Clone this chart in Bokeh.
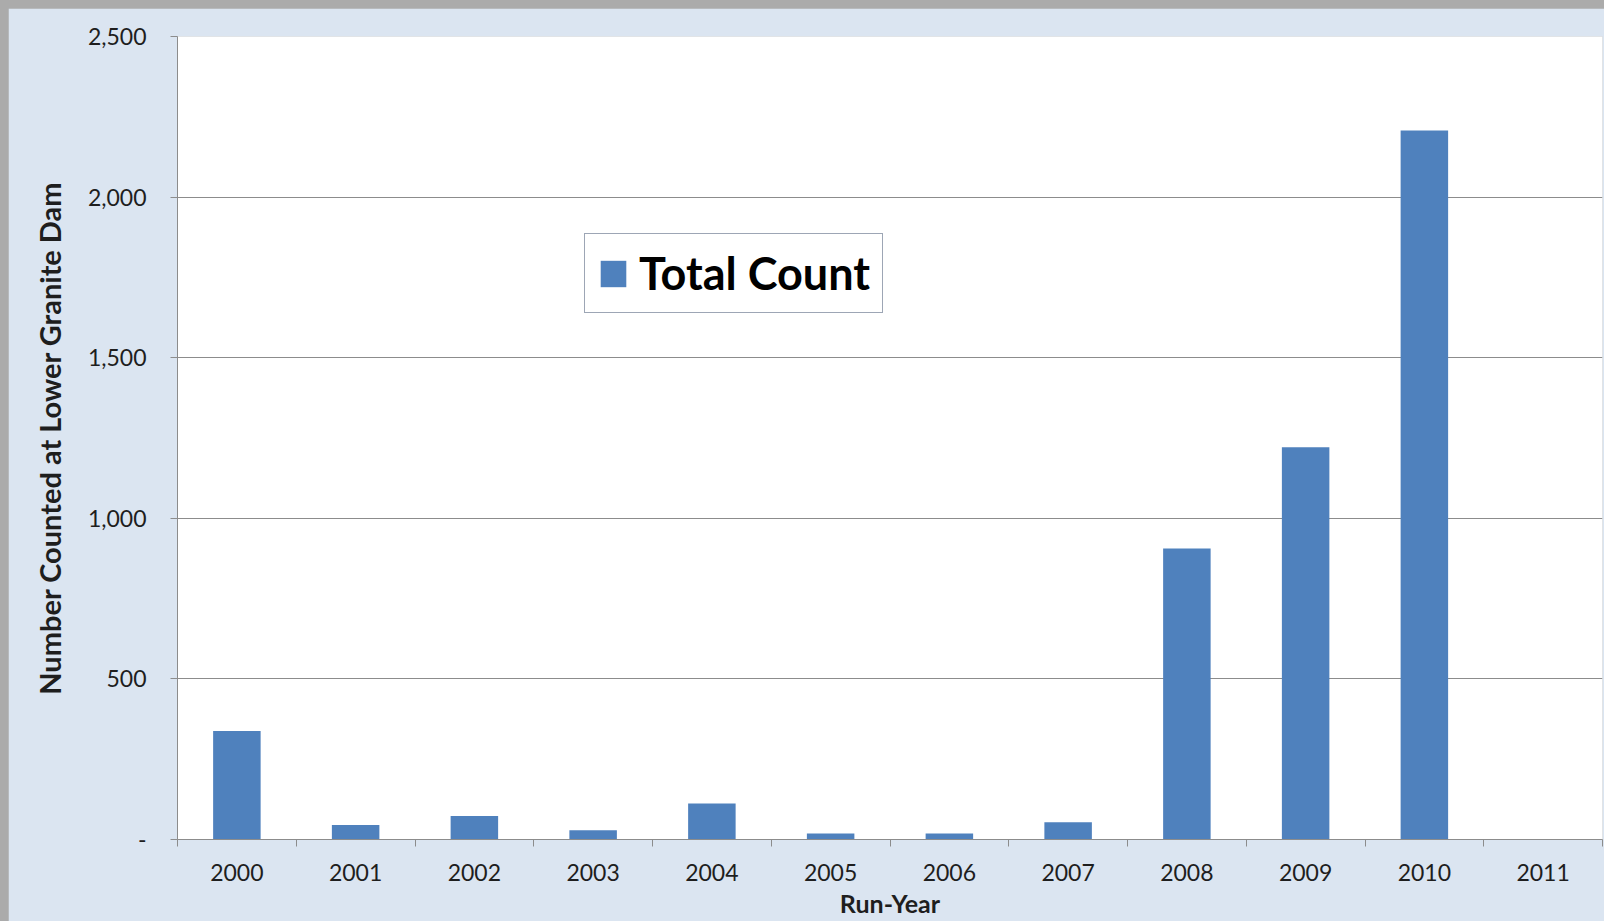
from bokeh.plotting import figure
from bokeh.layouts import column
from bokeh.models import (FixedTicker, Legend, LegendItem, Range1d, ColumnDataSource)
from bokeh.embed import file_html
from bokeh.resources import INLINE

# ---- data ----
years = ["2000", "2001", "2002", "2003", "2004", "2005",
         "2006", "2007", "2008", "2009", "2010", "2011"]
counts = [338, 45, 73, 29, 112, 19, 19, 54, 906, 1221, 2207, 0]
y_ticks = [0, 500, 1000, 1500, 2000, 2500]
y_tick_labels = ["-", "500", "1,000", "1,500", "2,000", "2,500"]
series_name = "Total Count"
x_title = "Run-Year"
y_title = "Number Counted at Lower Granite Dam"

BAR = "#4F81BD"
GRID = "#8C8C8C"
BG = "#DBE5F1"
TXT = "#1E1E1E"
FONT = "Lato"

centers = [i + 0.5 for i in range(len(years))]
boundaries = list(range(len(years) + 1))
src = ColumnDataSource(dict(x=centers, top=counts, year=years))

p = figure(width=1596, height=913,
           x_range=Range1d(0, len(years)), y_range=Range1d(0, y_ticks[-1]),
           output_backend="svg", toolbar_location=None,
           min_border_left=169, min_border_right=2,
           min_border_top=28, min_border_bottom=82)

p.background_fill_color = "white"
p.border_fill_color = BG
p.outline_line_color = None

r = p.vbar(x="x", top="top", width=0.4, source=src,
           fill_color=BAR, line_color=None)

# x axis: labels at category centres, ticks at category boundaries
xa = p.xaxis[0]
xa.ticker = FixedTicker(ticks=centers, minor_ticks=boundaries)
xa.major_label_overrides = {c: y for c, y in zip(centers, years)}
xa.major_tick_line_color = None
xa.minor_tick_line_color = GRID
xa.minor_tick_in = 0
xa.minor_tick_out = 7
xa.axis_line_color = GRID
xa.major_label_text_font = FONT
xa.major_label_text_font_size = "23px"
xa.major_label_text_color = TXT
xa.major_label_standoff = 17
xa.axis_label = x_title
xa.axis_label_text_font = FONT
xa.axis_label_text_font_size = "25px"
xa.axis_label_text_font_style = "bold"
xa.axis_label_text_color = TXT
xa.axis_label_standoff = 4

ya = p.yaxis[0]
ya.ticker = FixedTicker(ticks=y_ticks, minor_ticks=[])
ya.major_label_overrides = {t: l for t, l in zip(y_ticks, y_tick_labels)}
ya.major_tick_line_color = GRID
ya.major_tick_in = 0
ya.major_tick_out = 7
ya.minor_tick_line_color = None
ya.axis_line_color = GRID
ya.major_label_text_font = FONT
ya.major_label_text_font_size = "23px"
ya.major_label_text_color = TXT
ya.major_label_standoff = 24
ya.axis_label = y_title
ya.axis_label_text_font = FONT
ya.axis_label_text_font_size = "29px"
ya.axis_label_text_font_style = "bold"
ya.axis_label_text_color = TXT
ya.axis_label_standoff = 18

p.xgrid.grid_line_color = None
p.ygrid.ticker = FixedTicker(ticks=y_ticks)
p.ygrid.grid_line_color = GRID
p.ygrid.grid_line_width = 1

legend = Legend(items=[LegendItem(label=series_name, renderers=[r])],
                location=(407, 526),
                orientation="vertical",
                label_text_font=FONT,
                label_text_font_size="45px",
                label_text_font_style="bold",
                label_text_color="black",
                glyph_width=32, glyph_height=33,
                label_standoff=10,
                padding=12, margin=0, spacing=0,
                border_line_color="#3B4E6B", border_line_width=1.5,
                background_fill_color="white", background_fill_alpha=1.0)
p.add_layout(legend)

page = column(p, styles={"padding-left": "8px", "padding-top": "8px",
                         "background-color": "#ABABAB"})

open("out.html", "w").write(file_html(page, INLINE))
